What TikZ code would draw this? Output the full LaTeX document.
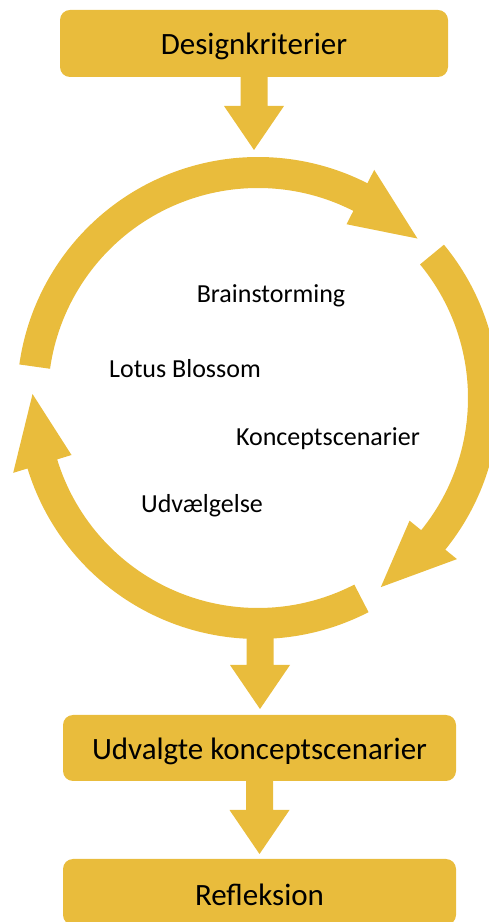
\documentclass[tikz,border=0pt]{standalone}
\usepackage{fontspec}
\setmainfont{Carlito}
\usetikzlibrary{calc}
\definecolor{gold}{RGB}{233,188,60}
\tikzset{
  x=1pt, y=1pt,
  box/.style={fill=gold, rounded corners=10pt, inner sep=0pt,
    font=\fontsize{31}{36}\selectfont},
  step label/.style={anchor=base, inner sep=0pt,
    font=\fontsize{26}{30}\selectfont},
  ring/.style={fill=gold}
}
% box text, set a little below the geometric centre
\newcommand\boxtext[1]{\raisebox{-3pt}[\height][\depth]{#1}}
% ring geometry
\def\rout{241}\def\rin{210}\def\rmid{225.5}
\def\hout{256}\def\hin{195}\def\hlen{18}
% curved arrow: from angle #1 clockwise to head base at angle #2
\newcommand\ringarrow[2]{%
  \fill[ring] (#1:\rout) arc[start angle=#1, end angle=#2, radius=\rout]
    -- (#2:\hout) -- ({#2-\hlen}:\rmid) -- (#2:\hin) -- (#2:\rin)
    arc[start angle=#2, end angle=#1, radius=\rin] -- cycle;}
% straight block arrow from the x of node #1 down to the y of node #2
\newcommand\blockdown[2]{%
  \fill[gold] let \p1=(#1), \p2=(#2) in
    (\x1-13.5,\y1) -- (\x1+13.5,\y1) -- (\x1+13.5,\y2+44) -- (\x1+30,\y2+44)
    -- (\x1,\y2) -- (\x1-30,\y2+44) -- (\x1-13.5,\y2+44) -- cycle;}
\begin{document}
\begin{tikzpicture}
\useasboundingbox (0,0) rectangle (489,922);
\clip (0,0) rectangle (489,922);

% process boxes
\node[box, minimum width=388pt, minimum height=67pt] (crit) at (254,878.5) {\boxtext{Designkriterier}};
\node[box, minimum width=393pt, minimum height=66pt] (chosen) at (259.5,174) {\boxtext{Udvalgte konceptscenarier}};
\node[box, minimum width=393pt, minimum height=66pt] (refl) at (259.5,30) {\boxtext{Refleksion}};

% iteration cycle
\coordinate (c) at (258,524);
\begin{scope}[shift={(c)}]
  \ringarrow{172}{63}
  \ringarrow{39.5}{-39}
  \ringarrow{-62.7}{-163}
\end{scope}
\coordinate (ringtop) at (255,772);
\coordinate (ringbot) at (260,300);

% steps inside the cycle
\node[step label] (brain) at (271,619) {Brainstorming};
\node[step label] (lotus) at (185,544) {Lotus Blossom};
\node[step label] (scen) at (328,476) {Konceptscenarier};
\node[step label] (sel) at (202,409) {Udvælgelse};

% flow between the stages
\blockdown{crit.south}{ringtop}
\coordinate (chosentop) at (260,213);
\blockdown{ringbot}{chosentop}
\coordinate (refltop) at (260,68);
\blockdown{chosen.south}{refltop}
\end{tikzpicture}
\end{document}
